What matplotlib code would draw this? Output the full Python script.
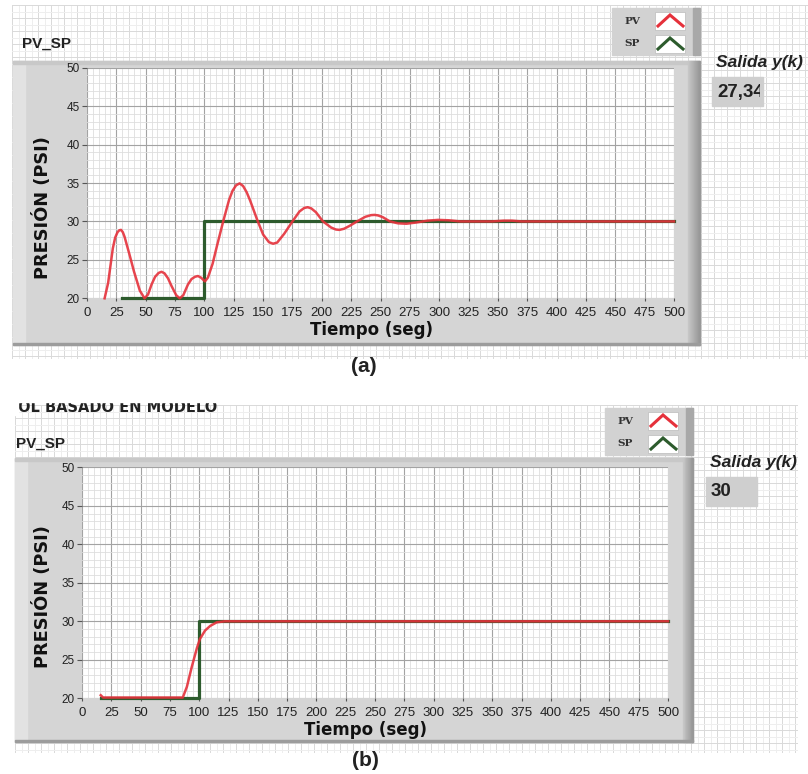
import matplotlib
matplotlib.use("Agg")
import matplotlib.pyplot as plt
from matplotlib.patches import Rectangle
from matplotlib.ticker import MultipleLocator
from matplotlib.transforms import Bbox, TransformedBbox

# ---------------- data ----------------
# (a) response with oscillation
time_a = [15, 18, 22, 24, 26, 27.5, 29, 30.5, 32, 36, 40, 45, 49, 52, 55, 58, 61, 63.5,
          66, 69, 72, 76, 79, 82, 86, 89, 92, 94.5, 97, 100.5, 103, 107, 111, 116, 121,
          124, 127, 130, 133, 136, 139, 145, 150, 155, 158.5, 162, 168, 175, 181, 185,
          188, 191, 195, 201, 208, 212, 215, 219, 224, 230, 237, 242, 245, 248, 252, 258,
          265, 272, 280, 290, 299, 308, 318, 330, 345, 355, 362, 370, 500]
pv_a = [20, 22, 26.5, 27.9, 28.6, 28.85, 28.9, 28.6, 28, 25.8, 23.5, 21, 20, 20.5, 21.8,
        22.8, 23.3, 23.45, 23.25, 22.6, 21.6, 20.4, 20, 20.4, 21.8, 22.5, 22.8, 22.9,
        22.7, 22.2, 22.7, 24.5, 27, 30, 32.8, 34, 34.7, 34.95, 34.6, 33.8, 32.7, 30.2,
        28.3, 27.3, 27.1, 27.25, 28.4, 30, 31.3, 31.75, 31.85, 31.7, 31.2, 30, 29.2,
        28.95, 28.9, 29.05, 29.45, 30, 30.6, 30.82, 30.85, 30.78, 30.55, 30, 29.75,
        29.7, 29.85, 30.1, 30.2, 30.15, 30, 30, 30, 30.1, 30.1, 30, 30]
sp_time_a = [30, 100, 500]
sp_a = [20, 30, 30]

# (b) response without overshoot
time_b = [16, 18, 30, 60, 86, 89.5, 93.7, 98, 100.6, 105, 109.4, 115, 122, 150, 300, 500]
pv_b = [20.4, 20.1, 20.1, 20.1, 20.1, 21.5, 24.1, 26.5, 27.7, 28.8, 29.4, 29.87, 30,
        30, 30, 30]
sp_time_b = [16, 100, 500]
sp_b = [20, 30, 30]

x_ticks = list(range(0, 501, 25))
y_ticks = [20, 25, 30, 35, 40, 45, 50]
series_names = ["PV", "SP"]
outputs = ["27,34", "30"]

RED = "#e5313b"
GREEN = "#2d5b2d"
W, H = 808, 774

fig = plt.figure(figsize=(W / 100, H / 100), dpi=100)
bg = fig.add_axes([0, 0, 1, 1])
bg.set_xlim(0, W)
bg.set_ylim(H, 0)
bg.axis("off")

NARROW = ["Liberation Sans Narrow", "Liberation Sans", "DejaVu Sans"]
SANS = "Liberation Sans"


def panel_grid(x0, x1, y0, y1):
    """Light front-panel grid behind the controls."""
    step = 6.5
    k = 0
    x = x0
    while x <= x1:
        bg.plot([x, x], [y0, y1], color="#d9d9d9" if k % 2 == 0 else "#eeeeee",
                lw=0.7, zorder=0)
        x += step
        k += 1
    k = 0
    y = y0
    while y <= y1:
        bg.plot([x0, x1], [y, y], color="#d9d9d9" if k % 2 == 0 else "#eeeeee",
                lw=0.7, zorder=0)
        y += step
        k += 1


def frame(x0, x1, y0, y1, inner_right):
    bg.add_patch(Rectangle((x0, y0), x1 - x0, y1 - y0, color="#d5d5d5", zorder=1))
    bg.add_patch(Rectangle((x0, y0), 12, y1 - y0, color="#e2e2e2", zorder=1))
    bg.add_patch(Rectangle((x0, y0), x1 - x0, 3, color="#c8c8c8", zorder=1))
    # shaded right edge
    n = 12
    for i in range(n):
        c = 0.78 - 0.2 * i / n
        bg.add_patch(Rectangle((inner_right + i * (x1 - inner_right) / n, y0),
                               (x1 - inner_right) / n + 0.3, y1 - y0,
                               color=(c, c, c), zorder=1))
    bg.add_patch(Rectangle((x0, y1 - 2), x1 - x0, 2, color="#9c9c9c", zorder=1))


def legend_box(x0, y0):
    w, h = 88, 47
    bg.add_patch(Rectangle((x0, y0), w, h, color="#d2d2d2", zorder=1))
    bg.add_patch(Rectangle((x0 + w - 7, y0), 7, h, color="#a8a8a8", zorder=1))
    for i, (name, col) in enumerate(zip(series_names, [RED, GREEN])):
        yc = y0 + 13 + i * 23
        bg.text(x0 + 20, yc, name, fontsize=7.5, fontweight="bold", color="#333333",
                family="DejaVu Serif", ha="center", va="center", zorder=3)
        bg.add_patch(Rectangle((x0 + 43, yc - 9), 30, 18, facecolor="white",
                               edgecolor="#bbbbbb", lw=0.5, zorder=2))
        bg.plot([x0 + 46, x0 + 58, x0 + 71], [yc + 5, yc - 6, yc + 5], color=col,
                lw=2.2, zorder=3, solid_joinstyle="miter")


def output_box(x0, y0, value):
    bg.text(x0 + 4, y0 - 14, "Salida y(k)", fontsize=12.5, fontweight="bold",
            fontstyle="italic", family=SANS, color="#222222", va="center",
            ha="left", zorder=3)
    bg.add_patch(Rectangle((x0, y0), 51, 29, color="#cfcfcf", zorder=1))
    t = bg.text(x0 + 5, y0 + 15, value, fontsize=13.5, fontweight="bold",
                family=SANS, color="#222222", va="center", ha="left", zorder=3)
    # the indicator only shows what fits in its box
    t.set_clip_box(TransformedBbox(Bbox([[x0, y0], [x0 + 48, y0 + 29]]), bg.transData))
    t.set_clip_on(True)


def chart(px0, px1, py_top, py_bot, time, pv, sp_time, sp, ylab_y):
    ax = fig.add_axes([px0 / W, 1 - py_bot / H, (px1 - px0) / W, (py_bot - py_top) / H])
    ax.set_facecolor("white")
    ax.set_xlim(0, 500)
    ax.set_ylim(20, 50)
    ax.set_xticks(x_ticks)
    ax.set_yticks(y_ticks)
    ax.xaxis.set_minor_locator(MultipleLocator(5))
    ax.yaxis.set_minor_locator(MultipleLocator(1))
    ax.grid(which="minor", color="#dedede", lw=0.6)
    ax.grid(which="major", color="#a3a3a3", lw=0.8)
    ax.set_axisbelow(True)
    for s in ax.spines.values():
        s.set_visible(False)
    ax.tick_params(which="minor", length=0)
    ax.tick_params(axis="x", which="major", length=2.5, width=0.8, color="#555555",
                   pad=4, labelsize=9.5, labelcolor="#222222")
    ax.tick_params(axis="y", which="major", length=3.5, width=0.8, color="#555555",
                   pad=1.5, labelsize=8.5, labelcolor="#222222")
    for lab in ax.get_xticklabels() + ax.get_yticklabels():
        lab.set_family(NARROW)
    ax.plot(sp_time, sp, color=GREEN, lw=2.3, drawstyle="steps-post", clip_on=False,
            zorder=3)
    ax.plot(time, pv, color=RED, lw=1.8, clip_on=False, zorder=4, alpha=0.9,
            solid_joinstyle="round")
    ax.set_xlabel("Tiempo (seg)", fontsize=12, fontweight="bold", family="DejaVu Sans",
                  color="#111111", va="top")
    ax.xaxis.set_label_coords(0.484, -0.098)
    ax.set_ylabel("PRESIÓN (PSI)", fontsize=12.8, fontweight="bold",
                  family="DejaVu Sans", color="#111111", va="center")
    ax.yaxis.set_label_coords((43 - px0) / (px1 - px0), (py_bot - ylab_y) / (py_bot - py_top))
    return ax


# ---------- panel (a) ----------
panel_grid(12, 808, 5, 358)
frame(13, 700, 61, 345, 688)
legend_box(612, 8)
bg.text(22, 44, "PV_SP", fontsize=11, fontweight="bold", family=SANS,
        color="#222222", va="center", ha="left", zorder=3)
output_box(712, 77, outputs[0])
chart(87, 674, 67.7, 298.3, time_a, pv_a, sp_time_a, sp_a, 208)
bg.text(364, 367, "(a)", fontsize=15, fontweight="bold", family=SANS,
        color="#222222", ha="center", va="center")

# ---------- panel (b) ----------
bg.text(217, 412, "CONTROL BASADO EN MODELO", fontsize=10.5, fontweight="bold",
        family="DejaVu Sans", color="#222222", ha="right", va="baseline", zorder=3)
# only the lower part of this heading is visible at the top of the panel
bg.add_patch(Rectangle((0, 385), 260, 17, color="white", zorder=4))
bg.add_patch(Rectangle((0, 385), 18, 30, color="white", zorder=4))
panel_grid(15, 797, 405, 752)
frame(15, 693, 458, 742, 683)
legend_box(605, 408)
bg.text(16, 444, "PV_SP", fontsize=11, fontweight="bold", family=SANS,
        color="#222222", va="center", ha="left", zorder=3)
output_box(706, 477, outputs[1])
chart(82, 668, 467.3, 698.3, time_b, pv_b, sp_time_b, sp_b, 597)
bg.text(365, 761, "(b)", fontsize=15, fontweight="bold", family=SANS,
        color="#222222", ha="center", va="center")

fig.savefig("out.png", dpi=100)
